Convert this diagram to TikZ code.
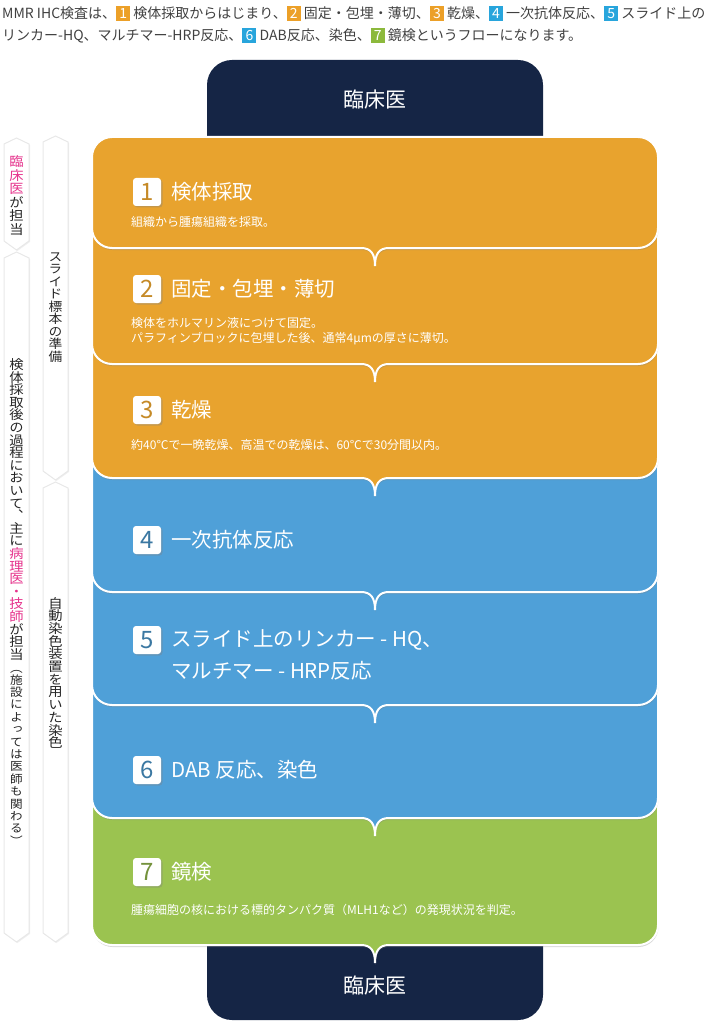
\documentclass[tikz,border=0pt]{standalone}
\usepackage{fontspec}
\setmainfont{Noto Sans CJK JP}
\newfontfamily\vjp[RawFeature=+vert, FakeStretch=1.1]{Noto Sans CJK JP}
\usetikzlibrary{shadows}
\definecolor{cor}{RGB}{232,163,46}
\definecolor{cbl}{RGB}{79,160,216}
\definecolor{cgr}{RGB}{155,195,80}
\definecolor{cnv}{RGB}{21,37,69}
\definecolor{cpk}{RGB}{230,50,140}
\definecolor{ctx}{RGB}{64,64,64}
\definecolor{sqo}{RGB}{236,160,40}
\definecolor{sqb}{RGB}{40,165,220}
\definecolor{sqg}{RGB}{140,185,60}
\newcommand\nsq[2]{{\setlength\fboxsep{0pt}\colorbox{#1}{\makebox[14pt]{\rule[-2.5pt]{0pt}{15pt}\textcolor{white}{#2}}}}}
% stage box: colour, top, bottom
\newcommand\stagebox[3]{%
  \path[stage, fill=#1] (92,#2) -- (658,#2) -- (658,#3-20)
    arc[start angle=0,end angle=90,radius=20] -- (389,#3)
    .. controls (379,#3) and (375,#3+6) .. (375,#3+18)
    .. controls (375,#3+6) and (371,#3) .. (361,#3) -- (112,#3)
    arc[start angle=90,end angle=180,radius=20] -- cycle;}
% vertical strip: left x, top peak, bottom point
\newcommand\vstrip[3]{%
  \path[strip] (#1,#2+6) -- (#1+12.5,#2) -- (#1+25,#2+6) -- (#1+25,#3-9)
    -- (#1+12.5,#3) -- (#1,#3-9) -- cycle;}
% vertical column of characters: style, name prefix, x, first baseline, pitch, list
\newcommand\vcol[6]{%
  \foreach \c [count=\i] in {#6} {\node[#1] (#2\i) at (#3,{#4+(\i-1)*#5}) {\c};}}
\tikzset{
  stage/.style={draw=white, line width=2pt,
    drop shadow={opacity=0.3, shadow xshift=0.5pt, shadow yshift=-2pt}},
  strip/.style={fill=white, draw=black!9, line width=1pt,
    drop shadow={opacity=0.12, shadow xshift=1pt, shadow yshift=-1pt}},
  numsq/.style={fill=white, rounded corners=3pt, minimum size=28pt, inner sep=0pt,
    font=\fontsize{24}{24}\selectfont,
    drop shadow={opacity=0.35, shadow xshift=1.5pt, shadow yshift=-1.5pt}},
  ttl/.style={anchor=west, inner sep=0pt, text=white, font=\fontsize{20.5}{24}\selectfont},
  dsc/.style={anchor=west, inner sep=0pt, text=white, align=left, font=\fontsize{12}{15}\selectfont},
  vch/.style={anchor=base, inner sep=0pt, text=black!85, font=\vjp\fontsize{13}{13}\selectfont},
  vchm/.style={vch, font=\vjp\fontsize{12.5}{12.5}\selectfont},
  vchs/.style={vch, font=\vjp\fontsize{11.5}{11.5}\selectfont},
  navytxt/.style={text=white, font=\fontsize{21}{21}\selectfont, inner sep=0pt},
  toptxt/.style={anchor=base west, inner sep=0pt, text=ctx, font=\fontsize{14}{16}\selectfont},
}
\begin{document}
\begin{tikzpicture}[x=1pt,y=-1pt]
\useasboundingbox (0,0) rectangle (721,1024);
% introduction text
\node[toptxt] (intro1) at (2,19) {MMR IHC検査は、\nsq{sqo}{1} 検体採取からはじまり、\nsq{sqo}{2} 固定・包埋・薄切、\nsq{sqo}{3} 乾燥、\nsq{sqb}{4} 一次抗体反応、\nsq{sqb}{5} スライド上の};
\node[toptxt] (intro2) at (2,41) {リンカー-HQ、マルチマー-HRP反応、\nsq{sqb}{6} DAB反応、染色、\nsq{sqg}{7} 鏡検というフローになります。};
% side strips
\vstrip{4}{138}{250}
\vstrip{4}{252}{942}
\vstrip{43}{136}{480}
\vstrip{43}{482}{942}
% side labels
\vcol{vch}{la}{16.5}{166.5}{13.6}{\textcolor{cpk}{臨},\textcolor{cpk}{床},\textcolor{cpk}{医},が,担,当}
\vcol{vch}{lb}{16.5}{369.4}{12.6}{検,体,採,取,後,の,過,程,に,お,い,て,、,主,に,\textcolor{cpk}{病},\textcolor{cpk}{理},\textcolor{cpk}{医},\textcolor{cpk}{・},\textcolor{cpk}{技},\textcolor{cpk}{師},が,担,当}
\node[vchs] (lcopen) at (16.5,672) {（};
\vcol{vchs}{lc}{16.5}{684}{12.4}{施,設,に,よ,っ,て,は,医,師,も,関,わ,る}
\node[vchs] (lcclose) at (16.5,845) {）};
\vcol{vchm}{ld}{55.5}{261}{12.5}{ス,ラ,イ,ド,標,本,の,準,備}
\vcol{vch}{le}{55.5}{608}{12.7}{自,動,染,色,装,置,を,用,い,た,染,色}
% clinician boxes
\fill[cnv] (207,160) -- (207,85) arc[start angle=180,end angle=270,radius=25]
  -- (518,60) arc[start angle=270,end angle=360,radius=25] -- (543,160) -- cycle;
\fill[cnv] (207,930) -- (543,930) -- (543,995) arc[start angle=0,end angle=90,radius=25]
  -- (232,1020) arc[start angle=90,end angle=180,radius=25] -- cycle;
\node[navytxt] (doc1) at (375,100) {臨床医};
\node[navytxt] (doc2) at (375,985) {臨床医};
% stage boxes, bottom to top
\stagebox{cgr}{780}{945}
\stagebox{cbl}{665}{818}
\stagebox{cbl}{550}{705}
\stagebox{cbl}{435}{592}
\stagebox{cor}{320}{478}
\stagebox{cor}{205}{364}
\path[stage, fill=cor] (92,157) arc[start angle=180,end angle=270,radius=20]
  -- (638,137) arc[start angle=270,end angle=360,radius=20] -- (658,228)
  arc[start angle=0,end angle=90,radius=20] -- (389,248)
  .. controls (379,248) and (375,254) .. (375,266)
  .. controls (375,254) and (371,248) .. (361,248) -- (112,248)
  arc[start angle=90,end angle=180,radius=20] -- cycle;
% stage contents
\node[numsq, text=cor!85!black] (s1) at (147,192) {1};
\node[ttl] (t1) at (171,192) {検体採取};
\node[dsc] (d1) at (131,222) {組織から腫瘍組織を採取。};
\node[numsq, text=cor!85!black] (s2) at (147,289) {2};
\node[ttl] (t2) at (171,289) {固定・包埋・薄切};
\node[dsc] (d2) at (131,331) {検体をホルマリン液につけて固定。\\パラフィンブロックに包埋した後、通常4μmの厚さに薄切。};
\node[numsq, text=cor!85!black] (s3) at (147,410) {3};
\node[ttl] (t3) at (171,410) {乾燥};
\node[dsc] (d3) at (131,445) {約40℃で一晩乾燥、高温での乾燥は、60℃で30分間以内。};
\node[numsq, text=cbl!75!black] (s4) at (147,540) {4};
\node[ttl] (t4) at (171,540) {一次抗体反応};
\node[numsq, text=cbl!75!black] (s5) at (147,640) {5};
\node[ttl] (t5a) at (171,640) {スライド上のリンカー - HQ、};
\node[ttl] (t5b) at (171,671) {マルチマー - HRP反応};
\node[numsq, text=cbl!75!black] (s6) at (147,770) {6};
\node[ttl] (t6) at (171,770) {DAB 反応、染色};
\node[numsq, text=cgr!75!black] (s7) at (147,872) {7};
\node[ttl] (t7) at (171,872) {鏡検};
\node[dsc] (d7) at (131,910) {腫瘍細胞の核における標的タンパク質（MLH1など）の発現状況を判定。};
\end{tikzpicture}
\end{document}
